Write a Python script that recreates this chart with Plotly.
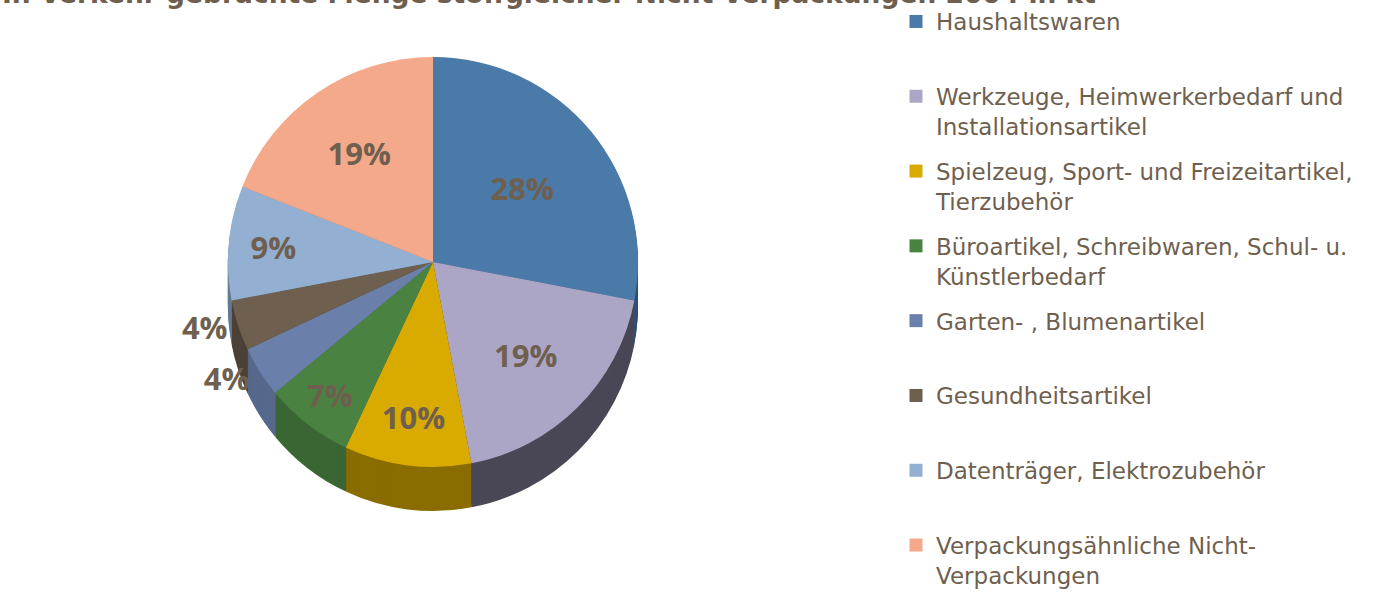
import plotly.graph_objects as go

# ---- data ----
categories = [
    "Haushaltswaren",
    "Werkzeuge, Heimwerkerbedarf und<br>Installationsartikel",
    "Spielzeug, Sport- und Freizeitartikel,<br>Tierzubehör",
    "Büroartikel, Schreibwaren, Schul- u.<br>Künstlerbedarf",
    "Garten- , Blumenartikel",
    "Gesundheitsartikel",
    "Datenträger, Elektrozubehör",
    "Verpackungsähnliche Nicht-<br>Verpackungen",
]
shares = [28, 19, 10, 7, 4, 4, 9, 19]
colors = ["#4a7aa8", "#aca6c6", "#d9aa00", "#4a8242",
          "#6a80aa", "#6e5f4f", "#93b0d2", "#f4a98a"]
side_colors = ["#2f5173", "#4a4756", "#8a6c00", "#3a6633",
               "#56698c", "#4d4237", "#667b93", "#b0765f"]
text_pos = ["inside", "inside", "inside", "inside",
            "outside", "outside", "inside", "inside"]
title_text = "In Verkehr gebrachte Menge stoffgleicher Nicht-Verpackungen 2004 in kt"

TXT = "#6f5f4f"
W, H = 1395, 602

# pie geometry (pixels)
cx, cy, R = 433, 262, 205
depth, steps = 44, 22

labels_flat = [c.replace("<br>", " ") for c in categories]


def dom(yoff):
    return dict(x=[(cx - R) / W, (cx + R) / W],
                y=[(H - cy - yoff - R) / H, (H - cy - yoff + R) / H])


fig = go.Figure()

# side (depth) of the pie: same data, darker colours, stacked downwards
for k in range(steps, 0, -1):
    fig.add_trace(go.Pie(
        labels=labels_flat, values=shares, sort=False,
        direction="clockwise", rotation=0,
        marker=dict(colors=side_colors, line=dict(width=0)),
        textinfo="none", hoverinfo="skip", showlegend=False,
        domain=dom(depth * k / steps),
    ))

# top face
fig.add_trace(go.Pie(
    labels=labels_flat,
    values=shares,
    sort=False,
    direction="clockwise",
    rotation=0,
    marker=dict(colors=colors, line=dict(width=0)),
    texttemplate="%{percent:.0%}",
    textposition=text_pos,
    insidetextorientation="horizontal",
    textfont=dict(family="Open Sans", size=31, color=TXT, weight="bold"),
    outsidetextfont=dict(family="Open Sans", size=31, color=TXT, weight="bold"),
    showlegend=False,
    hoverinfo="label+percent",
    domain=dom(0),
))

# legend entries (one per category, so the spacing can match)
for cat, col in zip(categories, colors):
    name = cat if "<br>" in cat else cat + "<br>\u00a0"
    fig.add_trace(go.Scatter(
        x=[None], y=[None], mode="markers",
        marker=dict(symbol="square", size=13, color=col),
        name=name, legendgroup=cat, showlegend=True,
    ))

fig.update_layout(
    width=W, height=H,
    margin=dict(l=0, r=0, t=0, b=0),
    paper_bgcolor="white", plot_bgcolor="white",
    xaxis=dict(visible=False), yaxis=dict(visible=False),
    annotations=[dict(
        text="<b>" + title_text + "</b>",
        font=dict(family="DejaVu Sans", size=26.5, color=TXT),
        xref="paper", x=0, xanchor="left",
        yref="paper", y=1, yanchor="middle", yshift=7,
        showarrow=False,
    )],
    legend=dict(
        x=896 / W, xanchor="left", y=1, yanchor="top",
        font=dict(family="DejaVu Sans", size=23, color=TXT),
        valign="top", tracegroupgap=12, traceorder="grouped",
        bgcolor="rgba(0,0,0,0)", itemclick=False, itemdoubleclick=False,
    ),
    font=dict(family="DejaVu Sans", color=TXT),
)

fig.write_html("out.html")
